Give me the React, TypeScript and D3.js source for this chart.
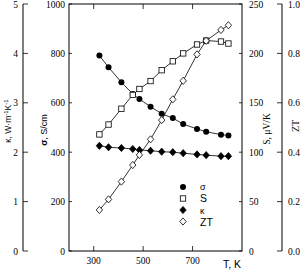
import React from "react";
import * as d3 from "d3";

const temps = [323, 360, 412, 458, 485, 530, 575, 620, 662, 718, 755, 815, 845];
const sigma = [791, 744, 683, 636, 615, 584, 556, 538, 514, 494, 483, 471, 468];
const seebeck = [118, 128, 144, 158, 164, 172, 183, 192, 200, 209, 213, 212, 210];
const kappa = [2.13, 2.1, 2.085, 2.065, 2.045, 2.03, 2.01, 2.0, 1.98, 1.955, 1.94, 1.92, 1.92];
const zt = [0.166, 0.209, 0.281, 0.348, 0.389, 0.452, 0.53, 0.614, 0.689, 0.796, 0.851, 0.895, 0.914];

const xTicks = [300, 500, 700];
const sigmaTicks = [0, 200, 400, 600, 800, 1000];
const kappaTicks = [0, 1, 2, 3, 4, 5];
const sTicks = [0, 50, 100, 150, 200, 250];
const ztTicks = [0, 0.2, 0.4, 0.6, 0.8, 1.0];

const L = 69, R = 242, T = 4, B = 251;
const serif = "'Liberation Serif', 'Times New Roman', serif";
const sans = "'Liberation Sans', Arial, sans-serif";

export default function App() {
  const x = d3.scaleLinear().domain([200, 900]).range([L, R]);
  const ySig = d3.scaleLinear().domain([0, 1000]).range([B, T]);
  const yK = d3.scaleLinear().domain([0, 5]).range([B, T]);
  const yS = d3.scaleLinear().domain([0, 250]).range([B, T]);
  const yZ = d3.scaleLinear().domain([0, 1]).range([B, T]);

  const line = (ys: number[], sc: d3.ScaleLinear<number, number>) =>
    d3.line<number>().x((_, i) => x(temps[i])).y((v) => sc(v))(ys) as string;

  const circle = (cx: number, cy: number, k: string) => (
    <circle key={k} cx={cx} cy={cy} r={3} fill="#000" />
  );
  const square = (cx: number, cy: number, k: string) => (
    <rect key={k} x={cx - 2.7} y={cy - 2.7} width={5.4} height={5.4} fill="#fff" stroke="#000" strokeWidth={0.8} />
  );
  const diamond = (cx: number, cy: number, k: string, filled: boolean) => (
    <path key={k} d={`M${cx},${cy - 3.6}L${cx + 3.2},${cy}L${cx},${cy + 3.6}L${cx - 3.2},${cy}Z`}
      fill={filled ? "#000" : "#fff"} stroke="#000" strokeWidth={0.8} />
  );

  const tickLen = 5;
  const KX = 23, ZX = 282;

  return (
    <svg width={304} height={272} style={{ position: "absolute", left: 0, top: 0 }}>
      <rect x={0} y={0} width={304} height={272} fill="#fff" />
      <rect x={L} y={T} width={R - L} height={B - T} fill="none" stroke="#000" strokeWidth={1} />
      {xTicks.map((t) => (
        <g key={"xt" + t}>
          <line x1={x(t)} x2={x(t)} y1={B} y2={B - tickLen} stroke="#000" strokeWidth={0.8} />
          <line x1={x(t)} x2={x(t)} y1={T} y2={T + tickLen} stroke="#000" strokeWidth={0.8} />
          <text x={x(t)} y={B + 13} textAnchor="middle" fontFamily={serif} fontSize={9.5}>{t}</text>
        </g>
      ))}
      <text x={232} y={268} textAnchor="middle" fontFamily={sans} fontSize={10.5}>T, K</text>
      {sigmaTicks.map((t) => (
        <g key={"st" + t}>
          <line x1={L} x2={L + 3} y1={ySig(t)} y2={ySig(t)} stroke="#000" strokeWidth={0.8} />
          <text x={L - 4} y={ySig(t) + 3.5} textAnchor="end" fontFamily={serif} fontSize={9.5}>{t}</text>
        </g>
      ))}
      <text transform={`translate(47,130) rotate(-90)`} textAnchor="middle" fontFamily={sans} fontSize={9}>
        <tspan fontWeight="bold">σ</tspan>, S/cm
      </text>
      <line x1={KX} x2={KX} y1={T} y2={B} stroke="#000" strokeWidth={1} />
      {kappaTicks.map((t) => (
        <g key={"kt" + t}>
          <line x1={KX} x2={KX + tickLen} y1={yK(t)} y2={yK(t)} stroke="#000" strokeWidth={0.8} />
          <text x={KX - 5} y={yK(t) + 3.5} textAnchor="end" fontFamily={serif} fontSize={9.5}>{t}</text>
        </g>
      ))}
      <text transform={`translate(11,121) rotate(-90)`} textAnchor="middle" fontFamily={sans} fontSize={8.5}>
        κ, W·m<tspan dy={-3.5} fontSize={6}>-1</tspan><tspan dy={3.5}>K</tspan><tspan dy={-3.5} fontSize={6}>-1</tspan>
      </text>
      {sTicks.map((t) => (
        <g key={"sst" + t}>
          <line x1={R - 3} x2={R} y1={yS(t)} y2={yS(t)} stroke="#000" strokeWidth={0.8} />
          <text x={249} y={yS(t) + 3.5} textAnchor="start" fontFamily={serif} fontSize={9.5}>{t}</text>
        </g>
      ))}
      <text transform={`translate(270,129) rotate(-90)`} textAnchor="middle" fontFamily={serif} fontSize={9.5}>
        S, μV/K
      </text>
      <line x1={ZX} x2={ZX} y1={T} y2={B} stroke="#000" strokeWidth={1} />
      {ztTicks.map((t) => (
        <g key={"zt" + t}>
          <line x1={ZX - tickLen} x2={ZX} y1={yZ(t)} y2={yZ(t)} stroke="#000" strokeWidth={0.8} />
          <text x={288} y={yZ(t) + 3.5} textAnchor="start" fontFamily={serif} fontSize={9.5}>{t.toFixed(1)}</text>
        </g>
      ))}
      <text transform={`translate(299,126) rotate(-90)`} textAnchor="middle" fontFamily={serif} fontSize={10}>ZT</text>
      <path d={line(sigma, ySig)} fill="none" stroke="#000" strokeWidth={0.8} />
      <path d={line(seebeck, yS)} fill="none" stroke="#000" strokeWidth={0.8} />
      <path d={line(kappa, yK)} fill="none" stroke="#000" strokeWidth={0.8} />
      <path d={line(zt, yZ)} fill="none" stroke="#000" strokeWidth={0.8} />
      {sigma.map((v, i) => circle(x(temps[i]), ySig(v), "c" + i))}
      {seebeck.map((v, i) => square(x(temps[i]), yS(v), "s" + i))}
      {kappa.map((v, i) => diamond(x(temps[i]), yK(v), "k" + i, true))}
      {zt.map((v, i) => diamond(x(temps[i]), yZ(v), "z" + i, false))}
      {circle(183, 187, "lc")}
      <text x={200} y={190} fontFamily={sans} fontSize={9}>σ</text>
      {square(183, 198.5, "ls")}
      <text x={200} y={202} fontFamily={sans} fontSize={10.5}>S</text>
      {diamond(183, 210, "lk", true)}
      <text x={200} y={213.5} fontFamily={sans} fontSize={9}>κ</text>
      {diamond(183, 221.5, "lz", false)}
      <text x={200} y={225.5} fontFamily={sans} fontSize={10.5}>ZT</text>
    </svg>
  );
}
